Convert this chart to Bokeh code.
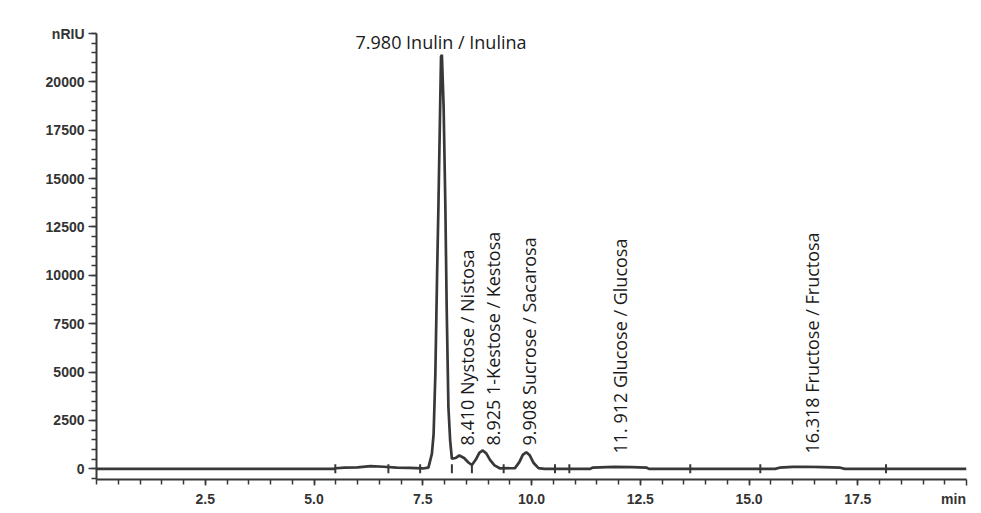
import math
from bokeh.plotting import figure
from bokeh.models import Range1d, FixedTicker, PrintfTickFormatter, Label
from bokeh.embed import file_html
from bokeh.resources import INLINE

# --- chromatogram trace ---
time_min = [0.0, 5.45, 5.5, 5.7, 6.0, 6.3, 6.6, 6.9, 7.2, 7.5,
            7.63, 7.71, 7.75, 7.79, 7.83, 7.86, 7.90, 7.92, 7.94,
            7.98, 8.02, 8.05, 8.09, 8.13, 8.17, 8.25, 8.34, 8.45,
            8.55, 8.63, 8.72, 8.80, 8.88, 8.96, 9.05, 9.15, 9.28,
            9.62, 9.72, 9.80, 9.88, 9.96, 10.05, 10.16, 10.3,
            11.35, 11.4, 11.9, 12.3, 12.65, 12.7,
            15.6, 15.7, 16.0, 16.3, 16.7, 17.1, 17.2, 20.0]
signal_nriu = [0, 0, 30, 60, 80, 140, 110, 60, 50, 20,
               60, 775, 1810, 4915, 10090, 13530, 18700, 21300, 21400,
               18700, 13530, 8360, 3190, 1460, 520, 560, 690, 560,
               330, 200, 480, 830, 950, 800, 450, 180, 20,
               40, 350, 720, 860, 700, 300, 40, 0,
               0, 60, 100, 90, 60, 0,
               0, 60, 100, 110, 90, 60, 0, 0]

# integration event marks on the baseline (min)
event_times = [5.49, 6.71, 7.44, 8.17, 8.63, 9.36, 10.54, 10.87, 13.65, 15.26, 18.15]

# peak annotations
peak_labels = ["8.410 Nystose / Nistosa", "8.925 1-Kestose / Kestosa",
               "9.908 Sucrose / Sacarosa", "11. 912 Glucose / Glucosa",
               "16.318 Fructose / Fructosa"]
label_x = [8.51, 9.12, 9.94, 12.04, 16.45]
label_y = [1205, 1205, 1205, 790, 790]
main_label = "7.980 Inulin / Inulina"
main_label_x = 7.92
main_label_y = 22050

y_major = [0, 2500, 5000, 7500, 10000, 12500, 15000, 17500, 20000, 22500]
y_minor = list(range(-500, 22501, 500))
x_major = [2.5, 5.0, 7.5, 10.0, 12.5, 15.0, 17.5, 20.0]
x_minor = [i * 0.5 for i in range(0, 40)]
y_unit = "nRIU"
x_unit = "min"

ink = "#383838"

p = figure(width=981, height=513, output_backend="svg", toolbar_location=None,
           x_range=Range1d(0, 20), y_range=Range1d(-550, 22500),
           min_border_left=96, min_border_right=15, min_border_top=33,
           min_border_bottom=34)
p.outline_line_color = None
p.xgrid.visible = False
p.ygrid.visible = False

p.line(time_min, signal_nriu, line_color=ink, line_width=2.7)
p.scatter(event_times, [0] * len(event_times), marker="dash", angle=math.pi / 2,
          size=9, line_color=ink, line_width=2)

tick_font = "Liberation Sans"
for ax in (p.xaxis[0], p.yaxis[0]):
    ax.axis_line_color = ink
    ax.axis_line_width = 2
    ax.major_tick_line_color = ink
    ax.minor_tick_line_color = ink
    ax.major_tick_line_width = 1.5
    ax.minor_tick_line_width = 1.5
    ax.major_tick_in = 0
    ax.minor_tick_in = 0
    ax.major_label_text_font = tick_font
    ax.major_label_text_font_style = "bold"
    ax.major_label_text_font_size = "14px"
    ax.major_label_text_color = "#333333"

p.yaxis.ticker = FixedTicker(ticks=y_major, minor_ticks=y_minor)
p.yaxis.major_tick_out = 8
p.yaxis.minor_tick_out = 5
p.yaxis.major_label_standoff = 4
p.yaxis.major_label_overrides = {22500: y_unit}

p.xaxis.ticker = FixedTicker(ticks=x_major, minor_ticks=x_minor)
p.xaxis.formatter = PrintfTickFormatter(format="%.1f")
p.xaxis.major_tick_out = 6
p.xaxis.minor_tick_out = 5
p.xaxis.major_label_standoff = 5
p.xaxis.major_label_overrides = {20.0: x_unit + "\u00a0" * 4, 20: x_unit + "\u00a0" * 4}

lab_font = "Open Sans"
p.add_layout(Label(x=main_label_x, y=main_label_y, text=main_label, text_align="center",
                   text_baseline="middle", text_font=lab_font, text_font_size="18px",
                   text_color="#1a1a1a"))
for t, lx, ly in zip(peak_labels, label_x, label_y):
    p.add_layout(Label(x=lx, y=ly, text=t, angle=math.pi / 2, angle_units="rad",
                       text_align="left", text_baseline="middle", text_font=lab_font,
                       text_font_size="18px", text_color="#1a1a1a"))

open("out.html", "w").write(file_html(p, INLINE))
